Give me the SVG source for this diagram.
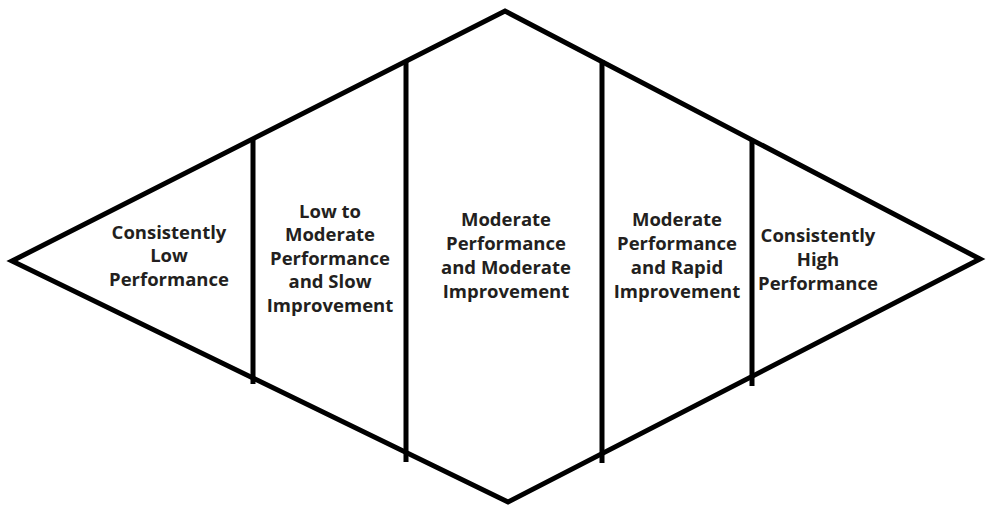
<svg xmlns="http://www.w3.org/2000/svg" width="988" height="506" viewBox="0 0 988 506">
<style>
.ln{stroke:#000;stroke-width:5;fill:none;stroke-linejoin:miter}
.t{font-family:"Open Sans","Liberation Sans",sans-serif;font-weight:bold;font-size:18.5px;fill:#231f20;text-anchor:middle}
</style>
<rect width="988" height="506" fill="#fff"/>
<g id="connectors">
<polygon class="ln" points="12,261 505,11 980,259 508,502"/>
<line class="ln" x1="253" y1="138" x2="253" y2="384"/>
<line class="ln" x1="406" y1="61" x2="406" y2="462"/>
<line class="ln" x1="602" y1="60" x2="602" y2="463"/>
<line class="ln" x1="752" y1="139" x2="752" y2="386"/>
</g>
<g id="seg1"><text class="t" x="169" y="239">Consistently</text><text class="t" x="169" y="262">Low</text><text class="t" x="169" y="286">Performance</text></g>
<g id="seg2"><text class="t" x="330" y="218">Low to</text><text class="t" x="330" y="241">Moderate</text><text class="t" x="330" y="265">Performance</text><text class="t" x="330" y="288">and Slow</text><text class="t" x="330" y="312">Improvement</text></g>
<g id="seg3"><text class="t" x="506" y="226">Moderate</text><text class="t" x="506" y="250">Performance</text><text class="t" x="506" y="274">and Moderate</text><text class="t" x="506" y="298">Improvement</text></g>
<g id="seg4"><text class="t" x="677" y="226">Moderate</text><text class="t" x="677" y="250">Performance</text><text class="t" x="677" y="274">and Rapid</text><text class="t" x="677" y="298">Improvement</text></g>
<g id="seg5"><text class="t" x="818" y="242">Consistently</text><text class="t" x="818" y="266">High</text><text class="t" x="818" y="290">Performance</text></g>
</svg>
